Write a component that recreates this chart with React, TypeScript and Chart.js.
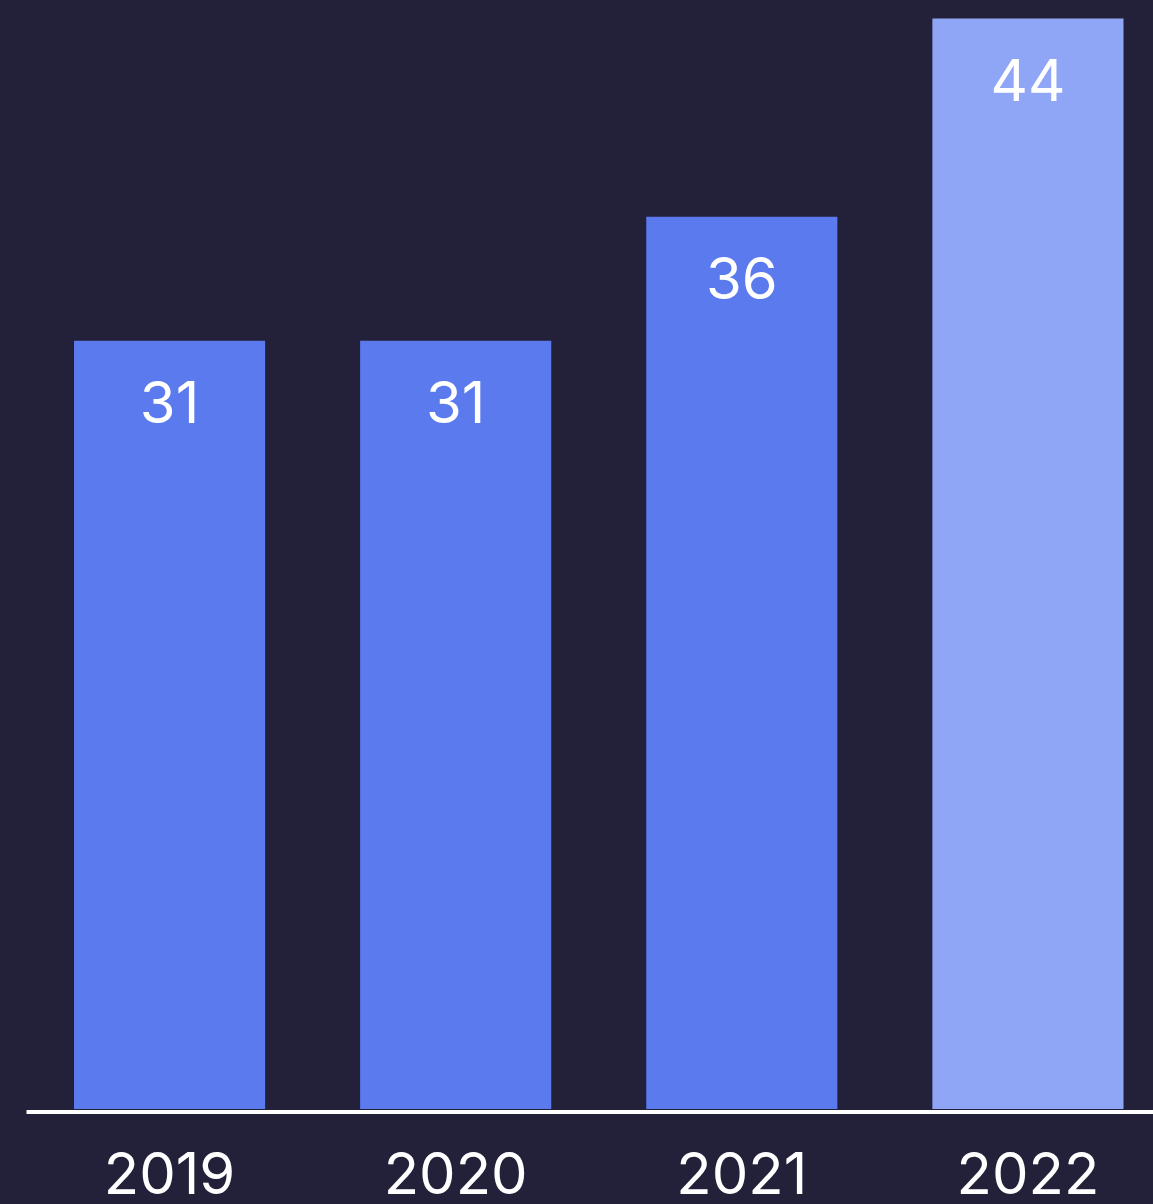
import React, { useEffect, useRef } from "react";
import { Chart, registerables } from "chart.js";

Chart.register(...registerables);

const categories = ["2019", "2020", "2021", "2022"];
const values = [31, 31, 36, 44];
const barColors = ["#5B7AEE", "#5B7AEE", "#5B7AEE", "#8FA5F5"];

const BG = "#232139";
const FONT = "Inter, 'Noto Sans', sans-serif";

const valueLabels = {
  id: "valueLabels",
  afterDatasetsDraw(chart: any) {
    const ctx = chart.ctx;
    const meta = chart.getDatasetMeta(0);
    ctx.save();
    ctx.fillStyle = "#FFFFFF";
    ctx.font = `400 58px ${FONT}`;
    ctx.textAlign = "center";
    ctx.textBaseline = "middle";
    meta.data.forEach((bar: any, i: number) => {
      ctx.fillText(String(values[i]), bar.x, bar.y + 65);
    });
    ctx.restore();
  },
};

const baseLine = {
  id: "baseLine",
  afterDraw(chart: any) {
    const ctx = chart.ctx;
    const area = chart.chartArea;
    ctx.save();
    ctx.fillStyle = "#FFFFFF";
    ctx.fillRect(area.left, area.bottom + 1, chart.width - area.left, 4);
    ctx.restore();
  },
};

export default function App() {
  const ref = useRef<HTMLCanvasElement | null>(null);

  useEffect(() => {
    document.body.style.margin = "0";
    document.body.style.background = BG;
    const canvas = ref.current!;
    const chart = new Chart(canvas, {
      type: "bar",
      data: {
        labels: categories,
        datasets: [
          {
            data: values,
            backgroundColor: barColors,
            borderWidth: 0,
            barPercentage: 1,
            categoryPercentage: 0.668,
          },
        ],
      },
      options: {
        responsive: false,
        animation: false,
        devicePixelRatio: 1,
        layout: { padding: { left: 26.5, right: 0, top: 0, bottom: 0 } },
        plugins: {
          legend: { display: false },
          tooltip: { enabled: false },
        },
        scales: {
          x: {
            grid: { display: false, drawTicks: false },
            border: { display: false },
            ticks: {
              color: "#FFFFFF",
              padding: 39,
              font: { family: FONT, size: 58, lineHeight: 1 },
            },
          },
          y: {
            display: false,
            min: 0,
            max: 44.75,
          },
        },
      },
      plugins: [valueLabels, baseLine],
    });
    return () => chart.destroy();
  }, []);

  return (
    <div style={{ width: 1153, height: 1204, overflow: "hidden", background: BG }}>
      <canvas ref={ref} width={1171} height={1245} style={{ width: 1171, height: 1245, display: "block" }} />
    </div>
  );
}
